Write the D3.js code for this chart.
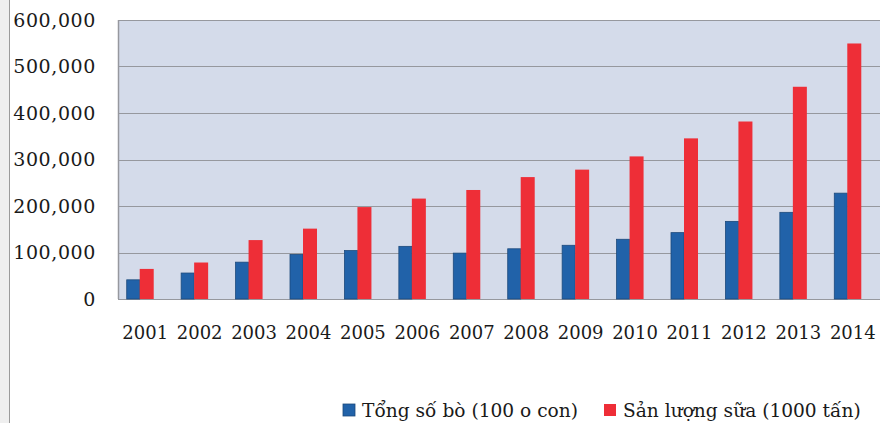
<!DOCTYPE html>
<html>
<head>
<meta charset="utf-8">
<script src="https://cdn.jsdelivr.net/npm/d3@7"></script>
<style>
  body { margin: 0; background: #fff; }
  svg { display: block; }
</style>
</head>
<body>
<div id="chart"></div>
<script>

const years = ["2001","2002","2003","2004","2005","2006","2007","2008","2009","2010","2011","2012","2013","2014"];
const cattle = [41241, 55848, 79225, 95794, 104120, 113215, 98659, 107983, 115518, 128461, 142742, 166913, 186388, 227627];
const milk = [64703, 78453, 126697, 151314, 197679, 215953, 234438, 262160, 278190, 306662, 345428, 381700, 456400, 549500];
const yTicks = [0, 100000, 200000, 300000, 400000, 500000, 600000];
const seriesNames = ["Tổng số bò (100 o con)", "Sản lượng sữa (1000 tấn)"];
const seriesColors = ["#2162a9", "#ee2e37"];

const drawChart = function() {

    const width = 880, height = 423;
    const plot = {left: 118, top: 20, right: 880, bottom: 299};

    const svg = d3.select("#chart").append("svg")
    .attr("width", width)
    .attr("height", height);

    // grey strip at the left edge of the page
    svg.append("rect")
    .attr("x", 0).attr("y", 0)
    .attr("width", 9).attr("height", height)
    .attr("fill", "#efefef");

    svg.append("line")
    .attr("x1", 9.5).attr("x2", 9.5)
    .attr("y1", 0).attr("y2", height)
    .attr("stroke", "#9b9b9b");

    const x_scale = d3.scaleBand()
    .domain(years)
    .range([plot.left, plot.right]);

    const y_scale = d3.scaleLinear()
    .domain([0, 600000])
    .range([plot.bottom, plot.top]);

    const barW = 13;

    svg.append("rect")
    .attr("x", plot.left).attr("y", plot.top)
    .attr("width", plot.right - plot.left)
    .attr("height", plot.bottom - plot.top)
    .attr("fill", "#d4dbea");

    // gridlines
    svg.append("g")
    .selectAll("line")
    .data(yTicks)
    .enter()
    .append("line")
    .attr("x1", plot.left).attr("x2", plot.right)
    .attr("y1", d => Math.round(y_scale(d)) + 0.5)
    .attr("y2", d => Math.round(y_scale(d)) + 0.5)
    .attr("stroke", "#96989e")
    .attr("stroke-width", 1.2);

    svg.append("line")
    .attr("x1", plot.left + 0.5).attr("x2", plot.left + 0.5)
    .attr("y1", plot.top).attr("y2", plot.bottom)
    .attr("stroke", "#96989e")
    .attr("stroke-width", 1.5);

    const groupLeft = d => x_scale(d) + x_scale.bandwidth() / 2 - 5.5 - barW;

    // blue bars
    svg.append("g")
    .selectAll("rect")
    .data(years)
    .enter()
    .append("rect")
    .attr("x", d => groupLeft(d))
    .attr("y", (d, i) => y_scale(cattle[i]))
    .attr("width", barW)
    .attr("height", (d, i) => y_scale(0) - y_scale(cattle[i]))
    .attr("fill", seriesColors[0])
    .attr("stroke", "#1d4a7c")
    .attr("stroke-width", 0.8);

    // red bars
    svg.append("g")
    .selectAll("rect")
    .data(years)
    .enter()
    .append("rect")
    .attr("x", d => groupLeft(d) + barW)
    .attr("y", (d, i) => y_scale(milk[i]))
    .attr("width", barW + 1)
    .attr("height", (d, i) => y_scale(0) - y_scale(milk[i]))
    .attr("fill", seriesColors[1]);

    // y labels
    svg.append("g")
    .selectAll("text")
    .data(yTicks)
    .enter()
    .append("text")
    .attr("x", 96)
    .attr("y", d => y_scale(d))
    .attr("dy", "0.35em")
    .attr("text-anchor", "end")
    .style("font-family", "'DejaVu Serif', serif")
    .style("font-size", "19px")
    .style("letter-spacing", "0.6px")
    .attr("fill", "#1a1a1a")
    .text(d => d3.format(",")(d));

    // x labels
    svg.append("g")
    .selectAll("text")
    .data(years)
    .enter()
    .append("text")
    .attr("x", d => x_scale(d) + x_scale.bandwidth() / 2)
    .attr("y", 333)
    .attr("dy", "0.35em")
    .attr("text-anchor", "middle")
    .style("font-family", "'DejaVu Serif', serif")
    .style("font-size", "18px")
    .attr("fill", "#1a1a1a")
    .text(d => d);

    // legend
    const legendX = [343, 604];
    const legend = svg.append("g")
    .selectAll("g")
    .data(seriesNames)
    .enter()
    .append("g")
    .attr("transform", (d, i) => "translate(" + legendX[i] + ",404)");

    legend.append("rect")
    .attr("width", 12).attr("height", 12)
    .attr("fill", (d, i) => seriesColors[i])
    .attr("stroke", (d, i) => i == 0 ? "#1d4a7c" : "none")
    .attr("stroke-width", 0.8);

    legend.append("text")
    .attr("x", 19)
    .attr("y", 6)
    .attr("dy", "0.35em")
    .style("font-family", "'DejaVu Serif', serif")
    .style("font-size", "18.6px")
    .attr("fill", "#1a1a1a")
    .text(d => d);
};

drawChart();
</script>
</body>
</html>
